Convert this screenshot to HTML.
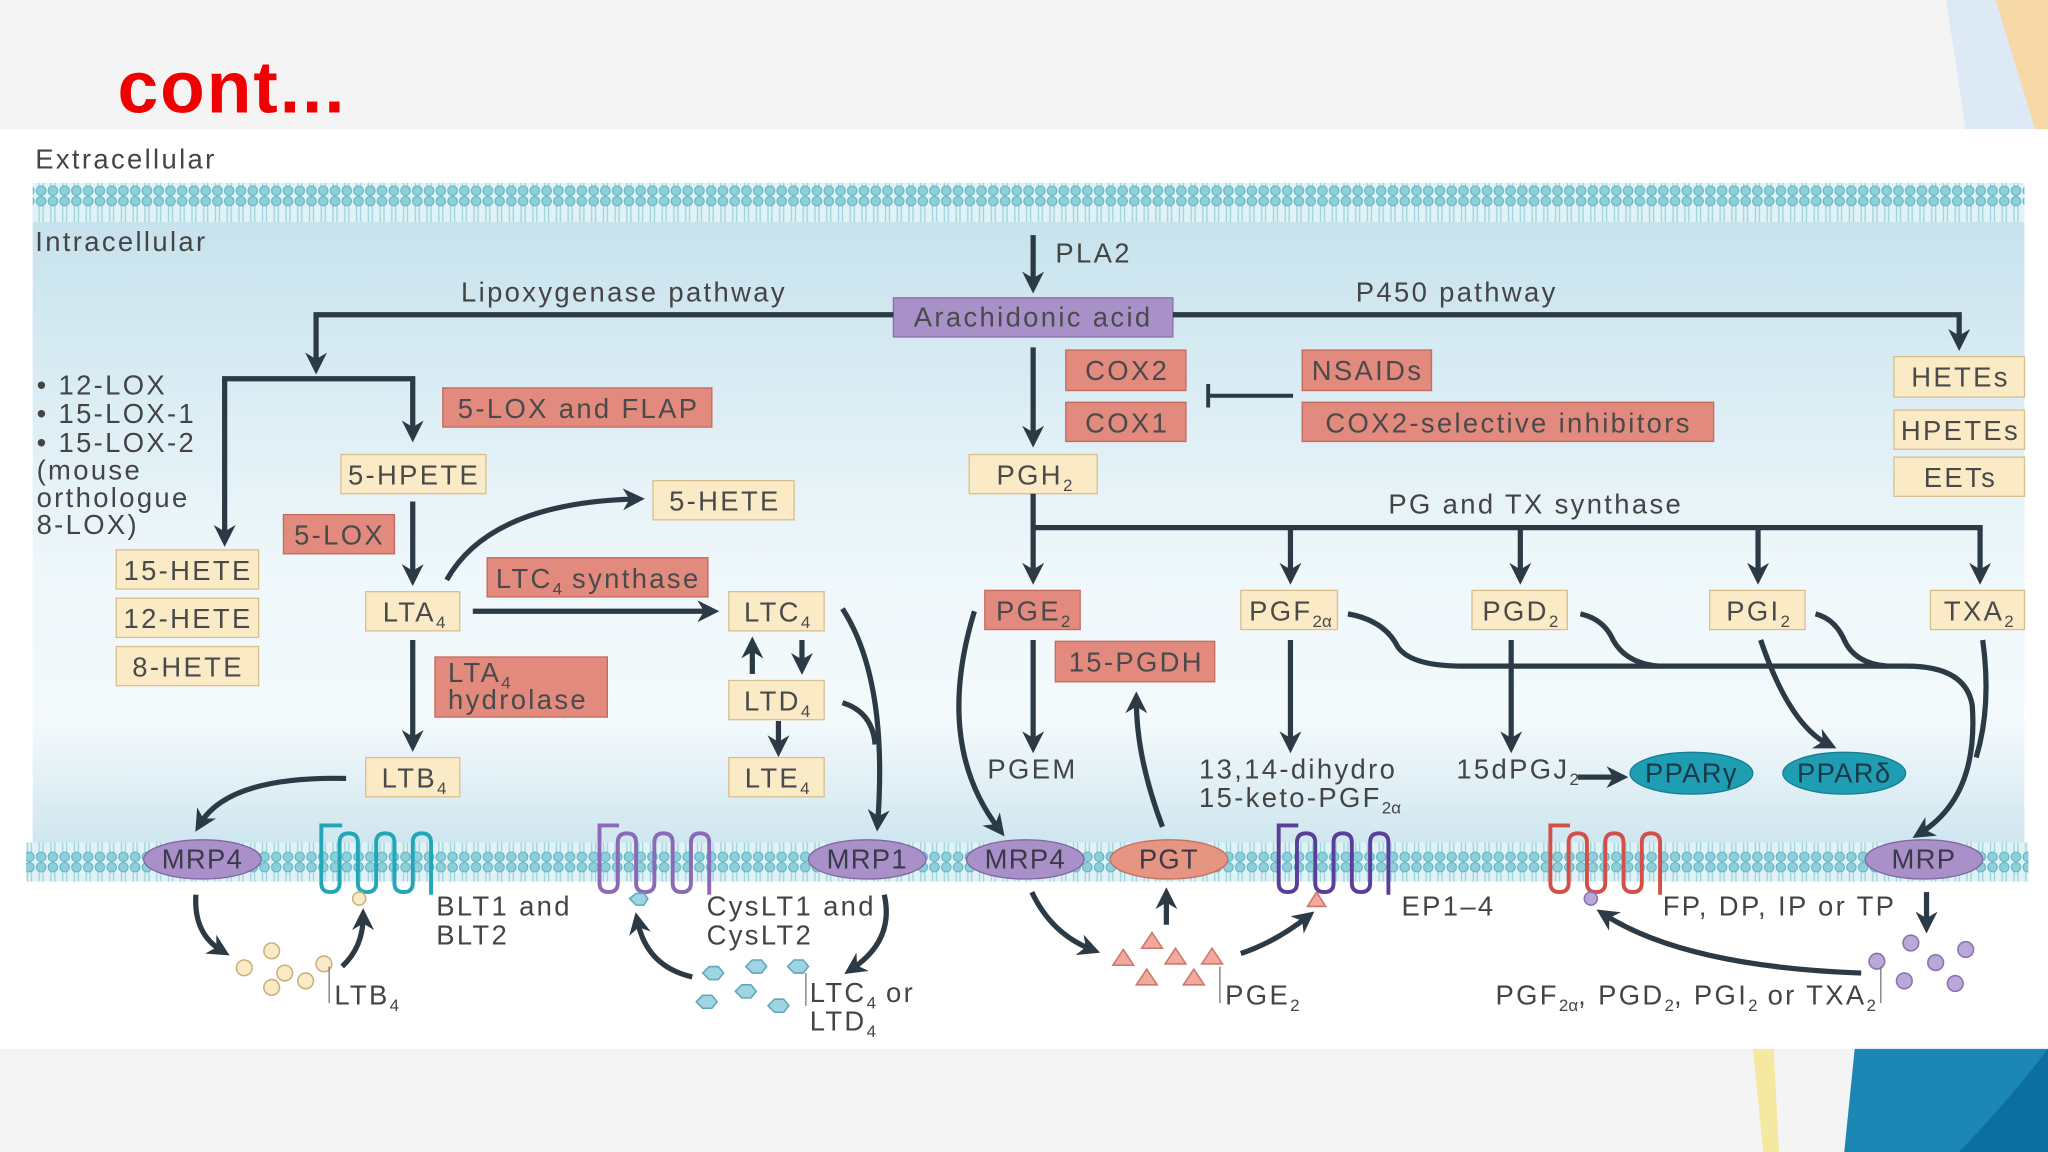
<!DOCTYPE html>
<html><head><meta charset="utf-8"><style>
html,body{margin:0;padding:0;background:#fff}
svg{display:block}
text{font-family:"Liberation Sans",sans-serif}
</style></head><body>
<svg width="2048" height="1152" viewBox="0 0 1568 882" xmlns="http://www.w3.org/2000/svg">
<defs>
<linearGradient id="cell" x1="0" y1="0" x2="0" y2="1">
<stop offset="0" stop-color="#c7e2ed"/><stop offset="0.55" stop-color="#eef7fa"/><stop offset="0.8" stop-color="#f4fafc"/><stop offset="1" stop-color="#cfe6ef"/>
</linearGradient>
<pattern id="mem" x="0" y="0" width="9" height="30" patternUnits="userSpaceOnUse">
<rect width="9" height="30" fill="#dff2f6"/>
<line x1="3" y1="6" x2="3" y2="24" stroke="#9fd3dd" stroke-width="1"/>
<line x1="6" y1="6" x2="6" y2="24" stroke="#9fd3dd" stroke-width="1"/>
<circle cx="4.5" cy="4" r="3.6" fill="#8fcfda" stroke="#5eb2c1" stroke-width="0.8"/>
<circle cx="4.5" cy="26" r="3.6" fill="#8fcfda" stroke="#5eb2c1" stroke-width="0.8"/>
</pattern>
<marker id="ah" viewBox="0 0 10 10" refX="6" refY="5" markerWidth="4.2" markerHeight="4.2" orient="auto-start-reverse">
<path d="M0,0 L10,5 L0,10 L3,5 z" fill="#2b3a45"/>
</marker>
</defs>

<rect width="1568" height="882" fill="#f4f4f4"/>
<path d="M1490 0 H1530 L1560 99 H1505 Z" fill="#dde9f5"/>
<path d="M1528 0 H1568 V99 H1558 Z" fill="#f7d9a8"/>
<rect x="0" y="99" width="1568" height="704" fill="#ffffff"/>
<path d="M1342 803 H1358 L1362 882 H1350 Z" fill="#f5e8a0"/>
<path d="M1420 803 H1568 V882 H1412 Z" fill="#1c86b5"/>
<path d="M1568 803 V882 H1500 Q1540 840 1568 803Z" fill="#0d6ea0"/>
<text x="90" y="86" font-size="56" font-weight="bold" fill="#f00000" letter-spacing="1.5">cont...</text>

<text x="27" y="129" font-size="21" letter-spacing="1.8" fill="#444">Extracellular</text>
<rect x="25" y="168" width="1525" height="478" fill="url(#cell)"/>
<rect x="25" y="140" width="1525" height="30" fill="url(#mem)"/>
<rect x="20" y="645" width="1533" height="30" fill="url(#mem)"/>
<text x="27" y="192" font-size="21" letter-spacing="1.8" fill="#444">Intracellular</text>

<g font-size="21" letter-spacing="1.8" fill="#444">
<text x="353" y="231">Lipoxygenase pathway</text>
<text x="1038" y="231">P450 pathway</text>
<text x="808" y="201">PLA2</text>
<text x="1063" y="393">PG and TX synthase</text>
<text x="28" y="302">• 12-LOX</text>
<text x="28" y="324">• 15-LOX-1</text>
<text x="28" y="346">• 15-LOX-2</text>
<text x="28" y="367">(mouse</text>
<text x="28" y="388">orthologue</text>
<text x="28" y="409">8-LOX)</text>
<text x="756" y="596">PGEM</text>
<text x="918" y="596">13,14-dihydro</text>
<text x="918" y="618">15-keto-PGF<tspan font-size="13" letter-spacing="0" dy="5">2α</tspan></text>
<text x="1115" y="596">15dPGJ<tspan font-size="13" letter-spacing="0" dy="5">2</tspan></text>
<text x="334" y="701">BLT1 and</text>
<text x="334" y="723">BLT2</text>
<text x="256" y="769">LTB<tspan font-size="13" letter-spacing="0" dy="5">4</tspan></text>
<text x="541" y="701">CysLT1 and</text>
<text x="541" y="723">CysLT2</text>
<text x="620" y="767">LTC<tspan font-size="13" letter-spacing="0" dy="5">4</tspan><tspan dy="-5"> or</tspan></text>
<text x="620" y="789">LTD<tspan font-size="13" letter-spacing="0" dy="5">4</tspan></text>
<text x="938" y="769">PGE<tspan font-size="13" letter-spacing="0" dy="5">2</tspan></text>
<text x="1073" y="701">EP1–4</text>
<text x="1273" y="701">FP, DP, IP or TP</text>
<text x="1145" y="769">PGF<tspan font-size="13" letter-spacing="0" dy="5">2α</tspan><tspan dy="-5">, PGD</tspan><tspan font-size="13" letter-spacing="0" dy="5">2</tspan><tspan dy="-5">, PGI</tspan><tspan font-size="13" letter-spacing="0" dy="5">2</tspan><tspan dy="-5"> or TXA</tspan><tspan font-size="13" letter-spacing="0" dy="5">2</tspan></text>
</g>

<g font-size="21" letter-spacing="1.8" fill="#4a4a4a" text-anchor="middle">
<rect x="684" y="228" width="214" height="30" fill="#a990c8" stroke="#8a70aa"/><text x="791" y="250">Arachidonic acid</text>
<g fill="#e28a7e" stroke="#c26a5e">
<rect x="816" y="268" width="92" height="31"/><rect x="816" y="308" width="92" height="30"/>
<rect x="997" y="268" width="99" height="31"/><rect x="997" y="308" width="315" height="30"/>
<rect x="339" y="297" width="206" height="30"/><rect x="217" y="394" width="85" height="30"/>
<rect x="373" y="427" width="169" height="30"/><rect x="333" y="503" width="132" height="46"/>
<rect x="754" y="452" width="73" height="30"/><rect x="808" y="491" width="122" height="31"/>
</g>
<g fill="#fbeac6" stroke="#d8bf8e">
<rect x="1450" y="273" width="100" height="31"/><rect x="1450" y="314" width="100" height="30"/><rect x="1450" y="350" width="100" height="30"/>
<rect x="742" y="348" width="98" height="30"/><rect x="261" y="348" width="111" height="30"/>
<rect x="500" y="368" width="108" height="30"/>
<rect x="89" y="421" width="109" height="30"/><rect x="89" y="458" width="109" height="30"/><rect x="89" y="495" width="109" height="30"/>
<rect x="280" y="453" width="72" height="30"/><rect x="558" y="453" width="73" height="30"/>
<rect x="558" y="521" width="73" height="30"/><rect x="558" y="580" width="73" height="30"/>
<rect x="280" y="580" width="72" height="30"/>
<rect x="950" y="452" width="74" height="30"/><rect x="1127" y="452" width="73" height="30"/>
<rect x="1309" y="452" width="73" height="30"/><rect x="1478" y="452" width="72" height="30"/>
</g>
<text x="863" y="291">COX2</text><text x="863" y="331">COX1</text>
<text x="1047" y="291">NSAIDs</text><text x="1155" y="331">COX2-selective inhibitors</text>
<text x="443" y="320">5-LOX and FLAP</text><text x="260" y="417">5-LOX</text>
<text x="458" y="450">LTC<tspan font-size="13" letter-spacing="0" dy="5">4</tspan><tspan dy="-5"> synthase</tspan></text>
<text x="343" y="522" text-anchor="start">LTA<tspan font-size="13" letter-spacing="0" dy="5">4</tspan></text>
<text x="343" y="543" text-anchor="start">hydrolase</text>
<text x="791" y="475">PGE<tspan font-size="13" letter-spacing="0" dy="5">2</tspan></text>
<text x="870" y="514">15-PGDH</text>
<text x="1501" y="296">HETEs</text><text x="1501" y="337">HPETEs</text><text x="1501" y="373">EETs</text>
<text x="792" y="371">PGH<tspan font-size="13" letter-spacing="0" dy="5">2</tspan></text>
<text x="317" y="371">5-HPETE</text><text x="555" y="391">5-HETE</text>
<text x="144" y="444">15-HETE</text><text x="144" y="481">12-HETE</text><text x="144" y="518">8-HETE</text>
<text x="317" y="476">LTA<tspan font-size="13" letter-spacing="0" dy="5">4</tspan></text>
<text x="595" y="476">LTC<tspan font-size="13" letter-spacing="0" dy="5">4</tspan></text>
<text x="595" y="544">LTD<tspan font-size="13" letter-spacing="0" dy="5">4</tspan></text>
<text x="595" y="603">LTE<tspan font-size="13" letter-spacing="0" dy="5">4</tspan></text>
<text x="317" y="603">LTB<tspan font-size="13" letter-spacing="0" dy="5">4</tspan></text>
<text x="988" y="475">PGF<tspan font-size="13" letter-spacing="0" dy="5">2α</tspan></text>
<text x="1164" y="475">PGD<tspan font-size="13" letter-spacing="0" dy="5">2</tspan></text>
<text x="1346" y="475">PGI<tspan font-size="13" letter-spacing="0" dy="5">2</tspan></text>
<text x="1515" y="475">TXA<tspan font-size="13" letter-spacing="0" dy="5">2</tspan></text>
</g>

<g font-size="21" letter-spacing="1" text-anchor="middle" fill="#1a3a4a">
<ellipse cx="1295" cy="592" rx="47" ry="16" fill="#1f9db3" stroke="#167e91"/><text x="1295" y="599">PPARγ</text>
<ellipse cx="1412" cy="592" rx="47" ry="16" fill="#1f9db3" stroke="#167e91"/><text x="1412" y="599">PPARδ</text>
</g>

<g font-size="21" letter-spacing="1" text-anchor="middle" fill="#3a3a4a">
<g fill="#a990c8" stroke="#7f68a0">
<ellipse cx="155" cy="658" rx="45" ry="15"/><ellipse cx="664" cy="658" rx="45" ry="15"/>
<ellipse cx="785" cy="658" rx="45" ry="15"/><ellipse cx="1473" cy="658" rx="45" ry="15"/>
</g>
<ellipse cx="895" cy="658" rx="45" ry="15" fill="#e69582" stroke="#c07060"/>
<text x="155" y="665">MRP4</text><text x="664" y="665">MRP1</text><text x="785" y="665">MRP4</text>
<text x="895" y="665">PGT</text><text x="1473" y="665">MRP</text>
</g>

<g fill="none" stroke-width="3">
<path stroke="#22a7b8" d="M262 632 H246 V676 q0 7 7 7 q7 0 7-7 V645 q0-7 7-7 q7 0 7 7 V676 q0 7 7 7 q7 0 7-7 V645 q0-7 7-7 q7 0 7 7 V676 q0 7 7 7 q7 0 7-7 V645 q0-7 7-7 q7 0 7 7 V685 H330"/>
<path stroke="#8a6ab8" d="M474 632 H459 V676 q0 7 7 7 q7 0 7-7 V645 q0-7 7-7 q7 0 7 7 V676 q0 7 7 7 q7 0 7-7 V645 q0-7 7-7 q7 0 7 7 V676 q0 7 7 7 q7 0 7-7 V645 q0-7 7-7 q7 0 7 7 V685 H543"/>
<path stroke="#5a3f9a" d="M994 632 H979 V676 q0 7 7 7 q7 0 7-7 V645 q0-7 7-7 q7 0 7 7 V676 q0 7 7 7 q7 0 7-7 V645 q0-7 7-7 q7 0 7 7 V676 q0 7 7 7 q7 0 7-7 V645 q0-7 7-7 q7 0 7 7 V685 H1063"/>
<path stroke="#d2504a" d="M1202 632 H1187 V676 q0 7 7 7 q7 0 7-7 V645 q0-7 7-7 q7 0 7 7 V676 q0 7 7 7 q7 0 7-7 V645 q0-7 7-7 q7 0 7 7 V676 q0 7 7 7 q7 0 7-7 V645 q0-7 7-7 q7 0 7 7 V685 H1271"/>
</g>

<g fill="#fbeac6" stroke="#c9b27a" stroke-width="1.2">
<circle cx="275" cy="688" r="5"/><circle cx="208" cy="728" r="6"/><circle cx="187" cy="741" r="6"/><circle cx="218" cy="745" r="6"/>
<circle cx="234" cy="751" r="6"/><circle cx="208" cy="756" r="6"/><circle cx="248" cy="738" r="6"/>
</g>
<line x1="252" y1="740" x2="252" y2="768" stroke="#777" stroke-width="1"/>
<g fill="#9fd4e2" stroke="#5fa8bb" stroke-width="1.2">
<path d="M482 688 l5-4 l6 0 l3 4 l-3 5 l-6 0z"/>
<path d="M538 745 l5-5 l7 0 l4 5 l-4 5 l-7 0z"/><path d="M571 740 l5-5 l7 0 l4 5 l-4 5 l-7 0z"/>
<path d="M603 740 l5-5 l7 0 l4 5 l-4 5 l-7 0z"/><path d="M533 767 l5-5 l7 0 l4 5 l-4 5 l-7 0z"/>
<path d="M563 759 l5-5 l7 0 l4 5 l-4 5 l-7 0z"/><path d="M588 770 l5-5 l7 0 l4 5 l-4 5 l-7 0z"/>
</g>
<line x1="617" y1="745" x2="617" y2="770" stroke="#777" stroke-width="1"/>
<g fill="#f2a89a" stroke="#c97a6a" stroke-width="1.2">
<path d="M1008 683 l-7 11 h14z"/>
<path d="M882 714 l-8 12 h16z"/><path d="M860 727 l-8 12 h16z"/><path d="M900 726 l-8 12 h16z"/>
<path d="M928 726 l-8 12 h16z"/><path d="M878 742 l-8 12 h16z"/><path d="M914 742 l-8 12 h16z"/>
</g>
<line x1="934" y1="740" x2="934" y2="768" stroke="#777" stroke-width="1"/>
<g fill="#b9a8d8" stroke="#8a74b0" stroke-width="1.2">
<circle cx="1218" cy="688" r="5"/><circle cx="1463" cy="722" r="6"/><circle cx="1482" cy="737" r="6"/>
<circle cx="1505" cy="727" r="6"/><circle cx="1437" cy="736" r="6"/><circle cx="1458" cy="751" r="6"/><circle cx="1497" cy="753" r="6"/>
</g>
<line x1="1440" y1="740" x2="1440" y2="768" stroke="#777" stroke-width="1"/>

<g fill="none" stroke="#2b3a45" stroke-width="4">
<path d="M791 180 V218" marker-end="url(#ah)"/>
<path d="M684 241 H242 V280" marker-end="url(#ah)"/>
<path d="M898 241 H1500 V262" marker-end="url(#ah)"/>
<path d="M172 412 V290 H316 V332" marker-start="url(#ah)" marker-end="url(#ah)"/>
<path d="M791 266 V336" marker-end="url(#ah)"/>
<path d="M990 303 H925" stroke-width="3"/><path d="M925 294 V312" stroke-width="3"/>
<path d="M791 378 V441" marker-end="url(#ah)"/>
<path d="M791 404 H1516 V441" marker-end="url(#ah)"/>
<path d="M988 404 V441" marker-end="url(#ah)"/>
<path d="M1164 404 V441" marker-end="url(#ah)"/>
<path d="M1346 404 V441" marker-end="url(#ah)"/>
<path d="M316 384 V442" marker-end="url(#ah)"/>
<path d="M342 444 Q375 385 487 382" marker-end="url(#ah)"/>
<path d="M362 468 H544" marker-end="url(#ah)"/>
<path d="M316 490 V569" marker-end="url(#ah)"/>
<path d="M576 516 V494" marker-end="url(#ah)"/>
<path d="M614 490 V510" marker-end="url(#ah)"/>
<path d="M596 552 V573" marker-end="url(#ah)"/>
<path d="M645 466 Q680 520 672 630" marker-end="url(#ah)"/>
<path d="M645 538 Q668 545 670 570"/>
<path d="M265 596 Q175 594 153 631" marker-end="url(#ah)"/>
<path d="M746 468 Q715 570 765 635" marker-end="url(#ah)"/>
<path d="M791 490 V570" marker-end="url(#ah)"/>
<path d="M890 633 Q870 580 870 536" marker-end="url(#ah)"/>
<path d="M988 490 V570" marker-end="url(#ah)"/>
<path d="M1157 490 V570" marker-end="url(#ah)"/>
<path d="M1208 595 H1240" marker-end="url(#ah)"/>
<path d="M1348 490 Q1370 555 1400 570" marker-end="url(#ah)"/>
<path d="M1032 470 Q1060 475 1070 495 Q1080 510 1120 510 H1460 Q1505 510 1510 540 Q1515 610 1470 638" marker-end="url(#ah)"/>
<path d="M1210 470 Q1228 474 1235 490 Q1245 508 1270 510"/>
<path d="M1390 470 Q1405 474 1412 490 Q1420 508 1445 510"/>
<path d="M1518 490 Q1525 540 1513 580"/>
<path d="M150 685 Q148 715 170 728" marker-end="url(#ah)"/>
<path d="M262 740 Q278 725 278 702" marker-end="url(#ah)"/>
<path d="M530 748 Q495 740 488 705" marker-end="url(#ah)"/>
<path d="M677 685 Q685 720 652 742" marker-end="url(#ah)"/>
<path d="M790 683 Q805 715 836 727" marker-end="url(#ah)"/>
<path d="M893 708 V686" marker-end="url(#ah)"/>
<path d="M950 730 Q975 722 1001 702" marker-end="url(#ah)"/>
<path d="M1475 683 V708" marker-end="url(#ah)"/>
<path d="M1425 745 Q1290 740 1228 700" marker-end="url(#ah)"/>
</g>
</svg>
</body></html>
